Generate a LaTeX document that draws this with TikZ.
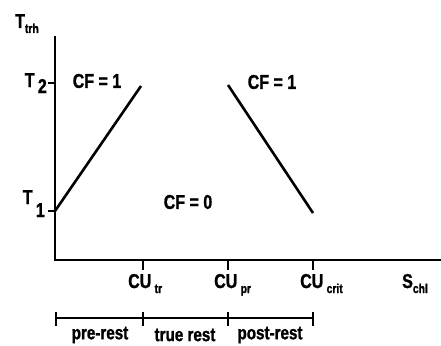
\documentclass[tikz,border=0pt]{standalone}
\usepackage{fontspec}
\newfontfamily\labfont[FakeStretch=0.8,FakeBold=1.2]{Liberation Sans Bold}
\newcommand\lsub[1]{\raisebox{-5pt}{\fontsize{13pt}{13pt}\selectfont #1}}
\begin{document}
\begin{tikzpicture}[x=1pt,y=-1pt,
  lab/.style={inner sep=0pt,font=\labfont\fontsize{20pt}{20pt}\selectfont},
  small/.style={inner sep=0pt,font=\labfont\fontsize{19pt}{19pt}\selectfont},
  axis/.style={line width=1.4pt},
  curve/.style={line width=2.6pt},
  tickline/.style={line width=1.1pt}]
\useasboundingbox (0,0) rectangle (441,345);
% axes
\coordinate (ytop) at (55,36);
\coordinate (orig) at (55,260);
\coordinate (xend) at (441,260);
\draw[axis] (ytop) -- (orig) -- (xend);
% y ticks
\coordinate (t2a) at (48,83);  \coordinate (t2b) at (55,83);
\coordinate (t1a) at (48,211); \coordinate (t1b) at (55,211);
\draw[tickline] (t2a) -- (t2b);
\draw[tickline] (t1a) -- (t1b);
% x ticks
\foreach \n/\x in {tr/143,pr/228,crit/313}{
  \coordinate (xa\n) at (\x,260); \coordinate (xb\n) at (\x,270);
  \draw[tickline] (xa\n) -- (xb\n);
}
% lines
\coordinate (la) at (55,211); \coordinate (lb) at (141,86);
\coordinate (ra) at (228,85); \coordinate (rb) at (313,213);
\draw[curve] (la) -- (lb);
\draw[curve] (ra) -- (rb);
% labels
\node[lab,anchor=base west] (ttrh) at (15,28) {T\lsub{trh}};
\node[lab,anchor=base east] (t2) at (47,87) {T\,\raisebox{-6pt}{2}};
\node[lab,anchor=base east] (t1) at (45,204) {T\,\raisebox{-13pt}{1}};
\node[lab] (cf1l) at (97,81) {CF = 1};
\node[lab] (cf1r) at (272,82) {CF = 1};
\node[lab] (cf0) at (188,202) {CF = 0};
\node[lab,anchor=base west] (cutr) at (128,288) {CU\,\lsub{tr}};
\node[lab,anchor=base west] (cupr) at (214,288) {CU\,\lsub{pr}};
\node[lab,anchor=base west] (cucrit) at (300,288) {CU\,\lsub{crit}};
\node[lab,anchor=base west] (schl) at (402,288) {S\lsub{chl}};
% bracket
\coordinate (b0) at (56,318); \coordinate (b3) at (313,318);
\draw[tickline] (b0) -- (b3);
\foreach \x in {56,143,228,313}{
  \coordinate (bt1) at (\x,312); \coordinate (bt2) at (\x,326);
  \draw[tickline] (bt1) -- (bt2);
}
\node[small] (pre) at (100,335) {pre-rest};
\node[small] (true) at (185,335) {true rest};
\node[small] (post) at (270,335) {post-rest};
\end{tikzpicture}
\end{document}
